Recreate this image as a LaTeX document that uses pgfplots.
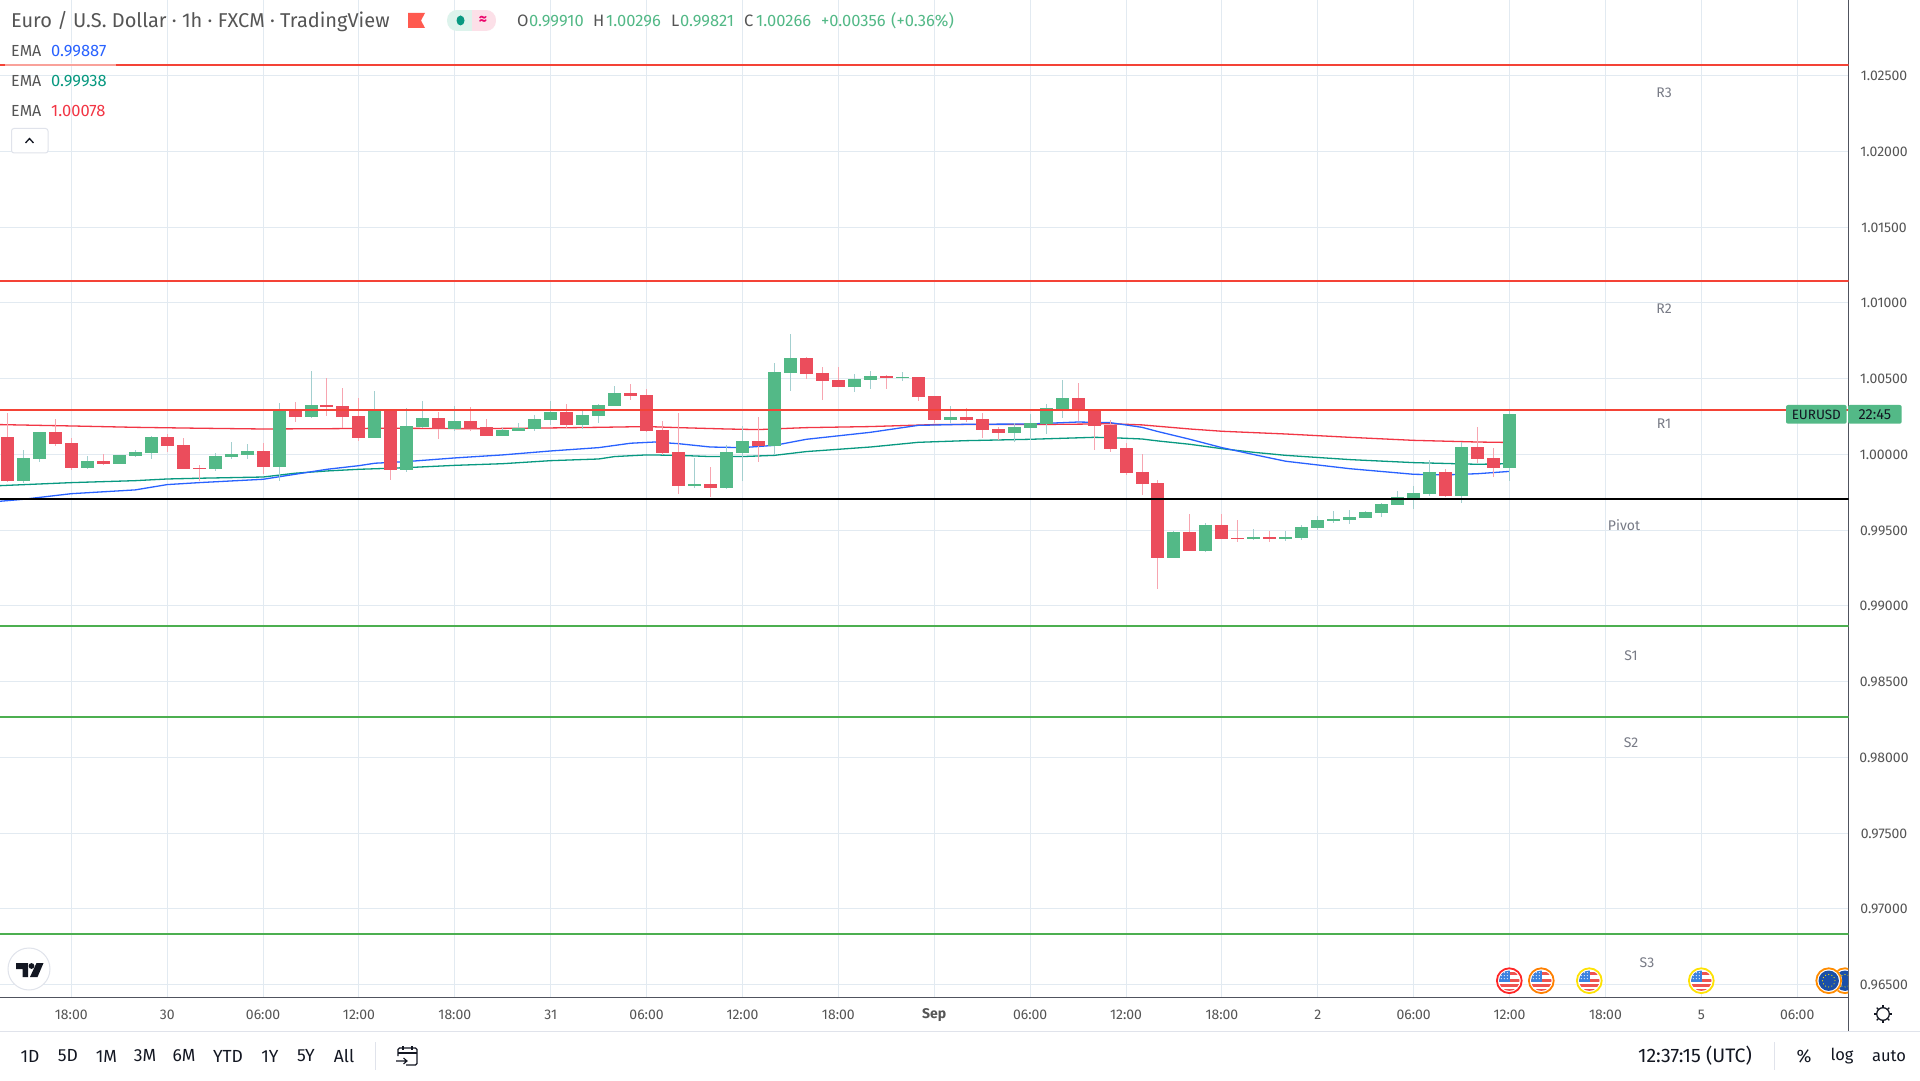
\documentclass[border=0pt]{standalone}
\usepackage{fontspec}
\setmainfont{Fira Sans}
\usepackage{pgfplots}
\usepackage{pgfplotstable}
\pgfplotsset{compat=1.18}
\definecolor{upc}{HTML}{53B987}
\definecolor{dnc}{HTML}{EB4D5C}
\definecolor{upw}{HTML}{A3CFCF}
\definecolor{dnw}{HTML}{F7A5B0}
\definecolor{gridc}{HTML}{E2EAF1}
\definecolor{axisc}{HTML}{50535E}
\definecolor{lab}{HTML}{555555}
\definecolor{ink}{HTML}{131722}
\definecolor{pivc}{HTML}{787B86}
\definecolor{rl}{HTML}{F44336}
\definecolor{gl}{HTML}{4CAF50}
\definecolor{emab}{HTML}{2962FF}
\definecolor{emag}{HTML}{089981}
\definecolor{emar}{HTML}{F23645}
\definecolor{usred}{HTML}{EF5350}
\definecolor{usblue}{HTML}{3B82E0}
\definecolor{eublue}{HTML}{1A4FA8}
\definecolor{sep}{HTML}{E0E3EB}
\definecolor{pillg}{HTML}{DDF3EC}
\definecolor{pillr}{HTML}{FCE0E8}
\definecolor{flagc}{HTML}{FF5A4F}
% columns: hour, body top, body bottom, wick top, wick bottom
\pgfplotstableread{
h bt bb wt wb
-3 0.99976 0.99824 1.00029 0.99811
-2 1.00147 0.99969 1.00147 0.99949
1 0.99956 0.99910 0.99989 0.99903
3 0.99996 0.99936 0.99996 0.99936
4 1.00015 0.99989 1.00029 0.99982
5 1.00114 1.00009 1.00121 0.99969
9 0.99989 0.99903 1.00009 0.99890
10 1.00002 0.99982 1.00081 0.99969
11 1.00022 0.99996 1.00068 0.99969
13 1.00293 0.99916 1.00339 0.99824
15 1.00326 1.00246 1.00550 1.00240
19 1.00286 1.00108 1.00418 1.00108
21 1.00187 0.99897 1.00306 0.99883
22 1.00240 1.00180 1.00352 1.00174
24 1.00220 1.00167 1.00319 1.00154
27 1.00161 1.00121 1.00174 1.00121
28 1.00174 1.00154 1.00207 1.00154
29 1.00233 1.00167 1.00260 1.00154
30 1.00279 1.00227 1.00352 1.00194
32 1.00260 1.00194 1.00299 1.00167
33 1.00326 1.00253 1.00332 1.00207
34 1.00405 1.00319 1.00451 1.00319
39 0.99804 0.99791 0.99976 0.99778
41 1.00015 0.99778 1.00062 0.99771
42 1.00088 1.00009 1.00187 0.99824
44 1.00543 1.00055 1.00603 0.99996
45 1.00636 1.00537 1.00794 1.00418
49 1.00497 1.00444 1.00530 1.00411
50 1.00517 1.00491 1.00550 1.00431
52 1.00510 1.00504 1.00543 1.00484
55 1.00246 1.00227 1.00319 1.00207
59 1.00180 1.00141 1.00207 1.00081
60 1.00207 1.00174 1.00266 1.00095
61 1.00306 1.00200 1.00332 1.00134
62 1.00372 1.00299 1.00491 1.00240
69 0.99487 0.99316 0.99494 0.99316
71 0.99534 0.99362 0.99547 0.99355
74 0.99454 0.99441 0.99507 0.99435
76 0.99454 0.99441 0.99494 0.99428
77 0.99520 0.99448 0.99534 0.99435
78 0.99567 0.99514 0.99593 0.99501
79 0.99573 0.99560 0.99626 0.99547
80 0.99586 0.99567 0.99633 0.99540
81 0.99619 0.99580 0.99626 0.99580
82 0.99672 0.99613 0.99679 0.99586
83 0.99718 0.99666 0.99758 0.99666
84 0.99745 0.99712 0.99791 0.99639
85 0.99883 0.99738 0.99963 0.99725
87 1.00048 0.99725 1.00081 0.99679
90 1.00266 0.99910 1.00296 0.99821
}\updata
\pgfplotstableread{
h bt bb wt wb
-4 1.00114 0.99824 1.00273 0.99817
-1 1.00147 1.00068 1.00233 1.00055
0 1.00075 0.99910 1.00108 0.99897
2 0.99956 0.99936 1.00002 0.99930
6 1.00114 1.00055 1.00134 1.00015
7 1.00062 0.99903 1.00108 0.99903
8 0.99910 0.99903 0.99930 0.99824
12 1.00022 0.99916 1.00075 0.99870
14 1.00293 1.00246 1.00345 1.00213
16 1.00326 1.00312 1.00504 1.00253
17 1.00319 1.00246 1.00438 1.00174
18 1.00253 1.00108 1.00372 1.00088
20 1.00293 0.99897 1.00293 0.99831
23 1.00240 1.00167 1.00279 1.00101
25 1.00220 1.00167 1.00312 1.00154
26 1.00180 1.00121 1.00233 1.00121
31 1.00279 1.00194 1.00332 1.00174
35 1.00405 1.00385 1.00464 1.00359
36 1.00392 1.00154 1.00431 1.00147
37 1.00161 1.00009 1.00220 0.99996
38 1.00015 0.99791 1.00273 0.99738
40 0.99804 0.99778 0.99916 0.99718
43 1.00088 1.00055 1.00246 0.99949
46 1.00636 1.00530 1.00642 1.00497
47 1.00537 1.00484 1.00576 1.00359
48 1.00491 1.00444 1.00576 1.00444
51 1.00517 1.00504 1.00524 1.00431
53 1.00510 1.00378 1.00510 1.00352
54 1.00385 1.00227 1.00385 1.00207
56 1.00246 1.00227 1.00306 1.00213
57 1.00233 1.00161 1.00273 1.00108
58 1.00167 1.00141 1.00180 1.00095
63 1.00372 1.00293 1.00471 1.00220
64 1.00299 1.00187 1.00299 1.00029
65 1.00194 1.00035 1.00227 1.00015
66 1.00042 0.99877 1.00075 0.99864
67 0.99883 0.99804 1.00002 0.99732
68 0.99811 0.99316 0.99831 0.99111
70 0.99487 0.99362 0.99606 0.99362
72 0.99534 0.99441 0.99606 0.99441
73 0.99448 0.99441 0.99567 0.99421
75 0.99454 0.99441 0.99494 0.99421
86 0.99883 0.99725 0.99903 0.99718
88 1.00048 0.99969 1.00180 0.99943
89 0.99976 0.99910 1.00042 0.99850
}\dndata
\newcommand\txt[5]{\node[anchor=#1,inner sep=0pt,text=#2,font=\fontsize{#3}{#3}\selectfont] at (#4) {#5};}
\newcommand\usflag[2]{\begin{scope}[shift={(#1,980.7)}]
\fill[white] (0,0) circle (13.4);
\draw[#2,line width=1.8] (0,0) circle (12.4);
\begin{scope}\clip (0,0) circle (10.2);
\fill[white] (-11,-11) rectangle (11,11);
\fill[usred] (-11,-8.5) rectangle (11,-5.5);
\fill[usred] (-11,-2) rectangle (11,1);
\fill[usred] (-11,3.5) rectangle (11,6.5);
\fill[usred] (-11,8) rectangle (11,11);
\fill[usblue] (-11,-11) rectangle (1,1.5);
\foreach \a in {-8,-5,-2}{\foreach \b in {-8,-5,-2}{\fill[white] (\a,\b) circle (0.6);}}
\end{scope}\end{scope}}
\newcommand\euflag[1]{\begin{scope}[shift={(#1,980.7)}]
\fill[white] (0,0) circle (13.4);
\draw[orange!90!yellow,line width=1.8] (0,0) circle (12.4);
\fill[eublue] (0,0) circle (10.2);
\foreach \a in {0,30,...,330}{\fill[yellow!90!orange] (\a:6.2) circle (0.6);}
\end{scope}}
\pgfplotsset{wick/.style={draw=none,no markers,mark size=0pt,error bars/.cd,y dir=both,y explicit,error mark=none,error bar style={line width=1pt,solid,draw=#1}},
 body/.style={draw=none,no markers,mark size=0pt,error bars/.cd,y dir=plus,y explicit,error mark=none,error bar style={line width=13pt,solid,draw=#1}}}
\begin{document}
\begin{tikzpicture}[x=1pt,y=1pt]
\useasboundingbox (0,0) rectangle (1920,1080);
\fill[white] (0,0) rectangle (1920,1080);
\begin{axis}[
  at={(0pt,82.7pt)},anchor=south west,
  scale only axis,width=1848.5pt,height=997.3pt,
  xmin=-4.462,xmax=111.21,ymin=0.96416,ymax=1.029985,
  axis x line*=bottom,axis y line*=right,
  axis line style={draw=axisc,line width=1.2pt,-},
  tick style={draw=none},
  grid=major,grid style={draw=gridc,line width=1pt},
  xtick={0,6,...,108},
  xticklabels={18:00,30,06:00,12:00,18:00,31,06:00,12:00,18:00,\textbf{Sep},06:00,12:00,18:00,2,06:00,12:00,18:00,5,06:00},
  ytick={0.965,0.97,0.975,0.98,0.985,0.99,0.995,1,1.005,1.01,1.015,1.02,1.025},
  scaled y ticks=false,
  /pgf/number format/.cd,fixed,fixed zerofill,precision=5,assume math mode=true,
  /pgfplots/.cd,
  yticklabel style={anchor=center,xshift=35.5pt,yshift=-0.4pt,text=lab,font=\fontsize{14}{14}\selectfont},
  xticklabel style={anchor=center,yshift=-17.5pt,text=lab,font=\fontsize{14}{14}\selectfont},
  clip=true,
]
% EMA lines
\addplot[emar,line width=1.3pt] coordinates {(-4.46,1.00196)(0,1.00187)(4,1.00178)(8,1.00172)(12,1.00167)(16,1.00169)(20,1.00172)(25,1.00169)(30,1.00174)(33,1.00178)(36,1.00183)(38,1.00176)(41,1.00167)(43,1.00163)(45,1.00172)(46,1.00176)(50,1.00183)(54,1.00196)(60,1.00196)(64,1.00200)(65,1.00202)(67,1.00194)(70,1.00167)(72,1.00152)(76,1.00134)(80,1.00112)(84,1.00092)(88,1.00081)(90,1.00078)};
\addplot[emag,line width=1.3pt] coordinates {(-4.46,0.99793)(0,0.99813)(4,0.99826)(6,0.99837)(8,0.99842)(12,0.99850)(14,0.99875)(16,0.99890)(18,0.99901)(20,0.99908)(21,0.99912)(24,0.99927)(27,0.99938)(30,0.99958)(33,0.99969)(34,0.99985)(36,0.99996)(38,0.99993)(40,0.99985)(42,0.99985)(44,0.99993)(46,1.00018)(50,1.00048)(53,1.00079)(56,1.00090)(60,1.00099)(64,1.00112)(65,1.00110)(67,1.00101)(68,1.00088)(70,1.00066)(72,1.00037)(74,1.00013)(76,0.99993)(80,0.99965)(84,0.99945)(88,0.99934)(90,0.99938)};
\addplot[emab,line width=1.3pt] coordinates {(-4.46,0.99690)(-3,0.99703)(0,0.99740)(4,0.99765)(6,0.99800)(8,0.99813)(12,0.99835)(14,0.99868)(16,0.99901)(18,0.99925)(19,0.99941)(21,0.99952)(24,0.99976)(27,0.99996)(30,1.00022)(33,1.00044)(35,1.00073)(36.5,1.00081)(38,1.00070)(40,1.00048)(42,1.00044)(44,1.00059)(46,1.00099)(50,1.00145)(53,1.00191)(56,1.00198)(60,1.00200)(63,1.00213)(65,1.00209)(67,1.00178)(68,1.00150)(70,1.00099)(72,1.00044)(74,0.99998)(76,0.99954)(80,0.99905)(84,0.99868)(86,0.99864)(88,0.99872)(90,0.99887)};
% wicks
\addplot[wick=upw] table[x=h,y=bb,y error plus expr=\thisrow{wt}-\thisrow{bb},y error minus expr=\thisrow{bb}-\thisrow{wb}] {\updata};
\addplot[wick=dnw] table[x=h,y=bb,y error plus expr=\thisrow{wt}-\thisrow{bb},y error minus expr=\thisrow{bb}-\thisrow{wb}] {\dndata};
% bodies
\addplot[body=upc] table[x=h,y=bb,y error plus expr=\thisrow{bt}-\thisrow{bb}] {\updata};
\addplot[body=dnc] table[x=h,y=bb,y error plus expr=\thisrow{bt}-\thisrow{bb}] {\dndata};
% pivot lines
\addplot[rl,line width=2pt] coordinates {(-5,1.02569)(112,1.02569)};
\addplot[rl,line width=2pt] coordinates {(-5,1.01144)(112,1.01144)};
\addplot[rl,line width=2pt] coordinates {(-5,1.00293)(112,1.00293)};
\addplot[black,line width=2pt] coordinates {(-5,0.99705)(112,0.99705)};
\addplot[gl,line width=2pt] coordinates {(-5,0.98869)(112,0.98869)};
\addplot[gl,line width=2pt] coordinates {(-5,0.98266)(112,0.98266)};
\addplot[gl,line width=2pt] coordinates {(-5,0.96832)(112,0.96832)};
\end{axis}
\begin{scope}[y=-1pt,yshift=1080pt]
% panel lines
\draw[axisc,line width=1.2pt] (1848.5,997.3) -- (1848.5,1031);
\draw[sep,line width=1pt] (0,1031.5) -- (1920,1031.5);
\draw[sep,line width=1pt] (375.5,1042) -- (375.5,1070);
\draw[sep,line width=1pt] (1774.5,1042) -- (1774.5,1070);
% pivot labels
\txt{center}{pivc}{14}{1664,93}{R3}
\txt{center}{pivc}{14}{1664,309}{R2}
\txt{center}{pivc}{14}{1664,424}{R1}
\txt{center}{pivc}{14}{1624,525.5}{Pivot}
\txt{center}{pivc}{14}{1631,655.5}{S1}
\txt{center}{pivc}{14}{1631,743}{S2}
\txt{center}{pivc}{14}{1647,963}{S3}
% header
\txt{base west}{lab}{20}{11,28}{Euro / U.S. Dollar · 1h · FXCM · TradingView}
\fill[flagc] (408,13) -- (425,13) -- (421,20.5) -- (425,28) -- (408,28) -- cycle;
\begin{scope}\clip[rounded corners=10] (447,10) rectangle (496,31);
\fill[pillg] (447,10) rectangle (471.5,31);
\fill[pillr] (471.5,10) rectangle (496,31);
\end{scope}
\fill[emag] (460.5,20.5) ellipse (4 and 5);
\txt{center}{magenta!70!red}{16}{483,20}{\textbf{≈}}
\txt{base west}{lab}{16.5}{517,27}{O}
\txt{base west}{upc}{16.5}{529,27}{0.99910}
\txt{base west}{lab}{16.5}{593,27}{H}
\txt{base west}{upc}{16.5}{606,27}{1.00296}
\txt{base west}{lab}{16.5}{671,27}{L}
\txt{base west}{upc}{16.5}{680,27}{0.99821}
\txt{base west}{lab}{16.5}{744,27}{C}
\txt{base west}{upc}{16.5}{756,27}{1.00266}
\txt{base west}{upc}{16.5}{821,27}{+0.00356}
\txt{base west}{upc}{16.5}{891,27}{(+0.36\%)}
% EMA legend
\fill[white,opacity=0.5] (5,63.5) rectangle (116,66.5);
\txt{base west}{lab}{16}{11,56.5}{EMA}
\txt{base west}{emab}{16.5}{51,56.5}{0.99887}
\txt{base west}{lab}{16}{11,86.5}{EMA}
\txt{base west}{emag}{16.5}{51,86.5}{0.99938}
\txt{base west}{lab}{16}{11,116.5}{EMA}
\txt{base west}{emar}{16.5}{51,116.5}{1.00078}
\filldraw[fill=white,draw=sep,line width=1pt,rounded corners=2.5] (11.5,128.5) rectangle (48,153);
\draw[ink,line width=1.3] (25.5,143) -- (29.5,138.5) -- (33.5,143);
% EURUSD tag
\fill[upc,rounded corners=2] (1786,405) rectangle (1846.7,423.7);
\fill[upc,rounded corners=2] (1848,405) rectangle (1901.7,423.7);
\txt{center}{ink}{13.5}{1816.3,414.6}{EURUSD}
\txt{center}{ink}{14.5}{1874.8,414.6}{22:45}
% events
\usflag{1509.3}{red!85!white}
\usflag{1541.3}{orange}
\usflag{1589.3}{yellow!85!orange}
\usflag{1701.3}{yellow!85!orange}
\begin{scope}\clip (1700,960) rectangle (1848,997);
\euflag{1845}
\euflag{1828.7}
\end{scope}
% logo
\filldraw[fill=white,draw=sep,line width=1pt] (29,969) circle (21);
\fill[ink] (16,963) -- (28,963) -- (28,977) -- (22.5,977) -- (22.5,969) -- (16,969) -- cycle;
\fill[ink] (31.5,966) circle (2.9);
\fill[ink] (36.5,963) -- (43.5,963) -- (37.5,977) -- (30,977) -- cycle;
% gear
\draw[ink,line width=1.3] (1883,1014) circle (6.3);
\foreach \a in {0,45,...,315}{\draw[ink,line width=1.3] (1883,1014) ++(\a:6.3) -- ++(\a:2.6);}
% toolbar
\txt{center}{ink}{17.5}{30,1056}{1D}
\txt{center}{ink}{17.5}{68,1056}{5D}
\txt{center}{ink}{17.5}{106.5,1056}{1M}
\txt{center}{ink}{17.5}{145,1056}{3M}
\txt{center}{ink}{17.5}{184,1056}{6M}
\txt{center}{ink}{17.5}{228,1056}{YTD}
\txt{center}{ink}{17.5}{270,1056}{1Y}
\txt{center}{ink}{17.5}{306,1056}{5Y}
\txt{center}{ink}{17.5}{344,1056}{All}
\draw[ink,line width=1.1,rounded corners=1.5] (398,1056) -- (398,1048) -- (417,1048) -- (417,1065) -- (406,1065);
\draw[ink,line width=1.1] (398,1053) -- (417,1053) (403,1046) -- (403,1050) (412,1046) -- (412,1050);
\draw[ink,line width=1.1] (396,1061) -- (407,1061) (403.5,1058) -- (407,1061) -- (403.5,1064);
\txt{center}{ink}{19.5}{1695,1056}{12:37:15 (UTC)}
\txt{center}{ink}{18}{1804,1056}{\%}
\txt{center}{ink}{16.5}{1842,1056}{log}
\txt{center}{ink}{16.5}{1889,1056}{auto}
\end{scope}
\end{tikzpicture}
\end{document}
